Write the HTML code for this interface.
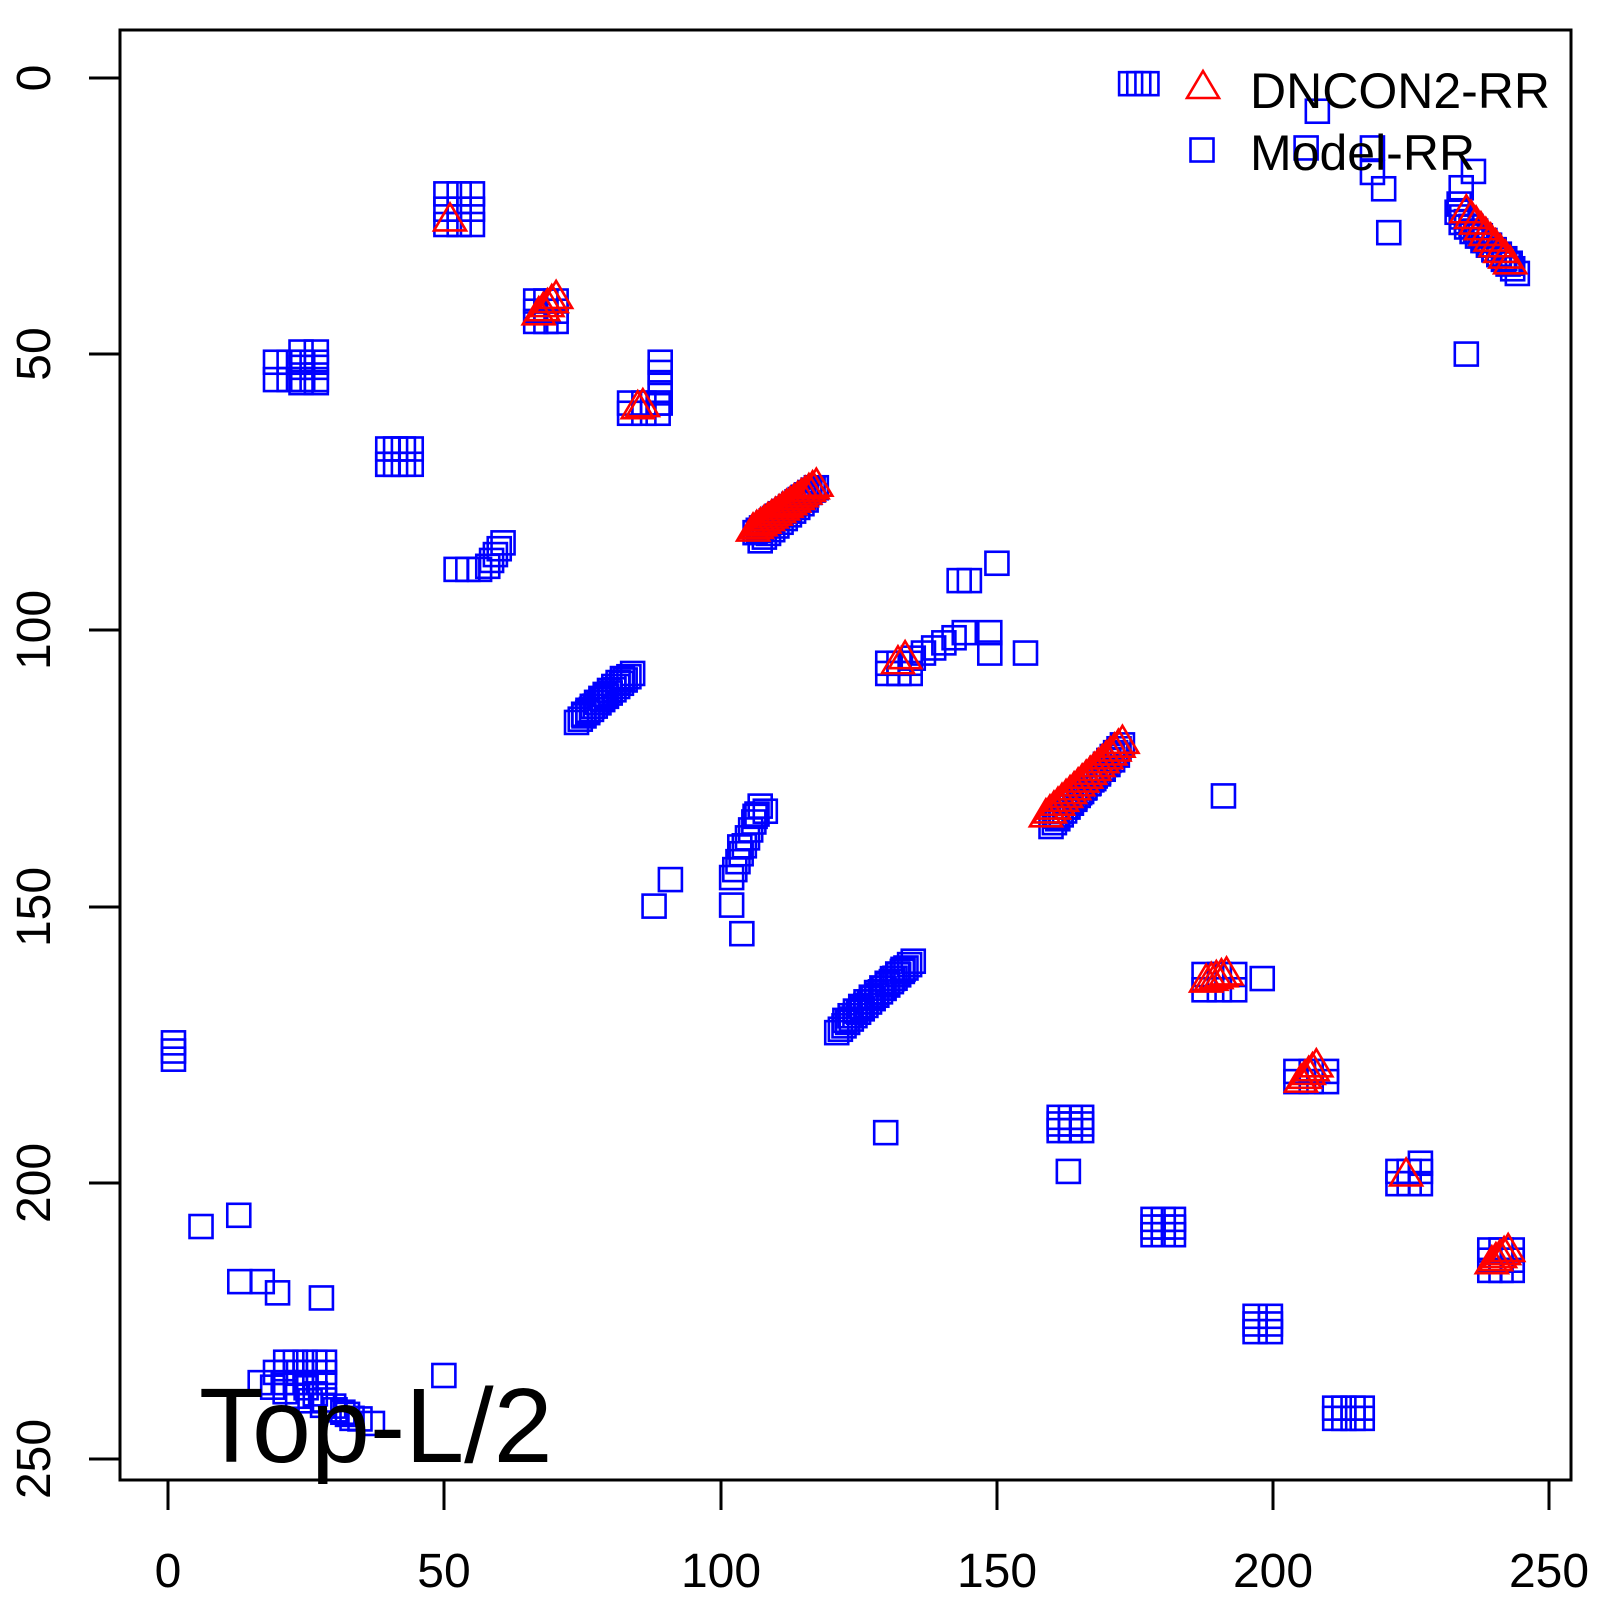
<!DOCTYPE html>
<html><head><meta charset="utf-8"><style>
body{margin:0;background:#fff}
svg text{font-family:"Liberation Sans",Arial,sans-serif}
</style></head><body>
<svg id="s" width="1600" height="1600" xmlns="http://www.w3.org/2000/svg">
<rect x="0" y="0" width="1600" height="1600" fill="#fff"/>
<g id="pts" fill="none" stroke-width="2.6"></g>
<rect x="120" y="30" width="1451" height="1450" fill="none" stroke="#000" stroke-width="3"/>
<g stroke="#000" stroke-width="3">
<line x1="168" y1="1480" x2="168" y2="1510"/><line x1="444" y1="1480" x2="444" y2="1510"/>
<line x1="721" y1="1480" x2="721" y2="1510"/><line x1="997" y1="1480" x2="997" y2="1510"/>
<line x1="1273" y1="1480" x2="1273" y2="1510"/><line x1="1549" y1="1480" x2="1549" y2="1510"/>
<line x1="89" y1="78" x2="120" y2="78"/><line x1="89" y1="354" x2="120" y2="354"/>
<line x1="89" y1="630" x2="120" y2="630"/><line x1="89" y1="907" x2="120" y2="907"/>
<line x1="89" y1="1183" x2="120" y2="1183"/><line x1="89" y1="1459" x2="120" y2="1459"/>
</g>
<g font-size="48" text-anchor="middle" fill="#000">
<text x="168" y="1587">0</text><text x="444" y="1587">50</text><text x="721" y="1587">100</text>
<text x="997" y="1587">150</text><text x="1273" y="1587">200</text><text x="1549" y="1587">250</text>
<text transform="translate(50,78) rotate(-90)">0</text>
<text transform="translate(50,354) rotate(-90)">50</text>
<text transform="translate(50,630) rotate(-90)">100</text>
<text transform="translate(50,907) rotate(-90)">150</text>
<text transform="translate(50,1183) rotate(-90)">200</text>
<text transform="translate(50,1459) rotate(-90)">250</text>
</g>
<g id="leg" fill="none" stroke-width="2.6"></g>
<text x="1250" y="108" font-size="50">DNCON2-RR</text>
<text x="1250" y="170" font-size="50">Model-RR</text>
<text x="199" y="1462" font-size="106">Top-L/2</text>
</svg>
<script>
const NS="http://www.w3.org/2000/svg";
const g=document.getElementById('pts');
const K=1.0204;
const sq=[],tr=[];
function S(x,y){sq.push([x*K,y*K]);}
function T(x,y){tr.push([x*K,y*K]);}
function L(f,x1,y1,x2,y2,n){for(let i=0;i<n;i++){const t=n==1?0:i/(n-1);f(x1+(x2-x1)*t,y1+(y2-y1)*t);}}
function C(f,x1,y1,x2,y2,nx,ny){for(let i=0;i<nx;i++)for(let j=0;j<ny;j++)f(x1+(x2-x1)*i/Math.max(1,nx-1),y1+(y2-y1)*j/Math.max(1,ny-1));}
[1108,1116,1124].forEach(x=>S(x,82));
S(1291,109);S(1280,145);S(1345,145);S(1345,169);S(1356,185);S(1361,228);S(1437,347);
S(1444,168);S(1432,184);S(1430,200);
L(S,1428,208,1487,268,14);L(S,1432,218,1480,258,10);
L(T,1437,208,1480,258,10);
C(S,437,190,463,220,3,3);T(441,216);
C(S,270,355,310,372,4,2);C(S,295,345,310,375,2,3);
C(S,525,295,545,315,3,3);L(T,528,308,545,292,5);
C(S,380,440,403,455,4,2);S(380,455);
C(S,617,395,645,405,3,2);L(S,647,355,647,395,5);T(625,400);T(630,398);
L(S,447,558,470,558,3);L(S,478,555,493,532,5);
L(S,740,522,800,478,20);L(S,745,530,790,490,12);L(T,738,520,800,476,18);
L(S,565,708,620,660,16);L(S,572,700,610,665,10);
L(S,740,800,750,795,2);L(S,717,860,745,790,10);S(727,915);S(717,887);S(641,888);S(657,862);S(725,830);
C(S,870,650,892,660,3,2);T(880,650);T(887,645);L(S,895,645,945,620,6);S(950,569);S(940,569);S(977,552);
C(S,970,620,980,640,1,2);S(1005,640);
L(S,1030,810,1100,730,22);L(S,1035,800,1095,740,14);L(T,1025,800,1100,728,20);
S(1199,780);
L(S,820,1012,895,942,22);L(S,828,1000,885,950,12);
C(S,1180,955,1210,970,3,2);L(T,1182,962,1202,955,5);S(1237,959);
C(S,1270,1050,1300,1060,3,2);L(T,1275,1060,1290,1045,5);
C(S,1038,1095,1060,1108,3,3);S(1047,1148);S(868,1110);
C(S,1130,1195,1150,1210,3,3);
C(S,1230,1290,1245,1305,2,3);
C(S,1370,1148,1392,1160,3,2);S(1392,1140);T(1378,1152);
C(S,1460,1225,1482,1245,3,3);L(T,1462,1238,1478,1226,5);
C(S,1308,1380,1335,1390,4,2);
L(S,170,1022,170,1038,3);S(197,1202);S(234,1191);S(235,1256);S(257,1256);S(272,1267);S(315,1272);S(435,1348);
C(S,280,1335,318,1355,5,3);L(S,255,1355,365,1395,10);L(S,300,1360,345,1390,6);S(270,1345);
function sqEl(par,x,y){const r=document.createElementNS(NS,'rect');r.setAttribute('x',x-11.5);r.setAttribute('y',y-11.5);r.setAttribute('width',23);r.setAttribute('height',23);r.setAttribute('stroke','#0000ff');par.appendChild(r);}
function trEl(par,x,y){const p=document.createElementNS(NS,'polygon');p.setAttribute('points',`${x-16},${y+10} ${x+16},${y+10} ${x},${y-17}`);p.setAttribute('stroke','#ff0000');par.appendChild(p);}
sq.forEach(p=>sqEl(g,p[0],p[1]));
tr.forEach(p=>trEl(g,p[0],p[1]));
const lg=document.getElementById('leg');
trEl(lg,1203,88);sqEl(lg,1202,150);
</script>
</body></html>
